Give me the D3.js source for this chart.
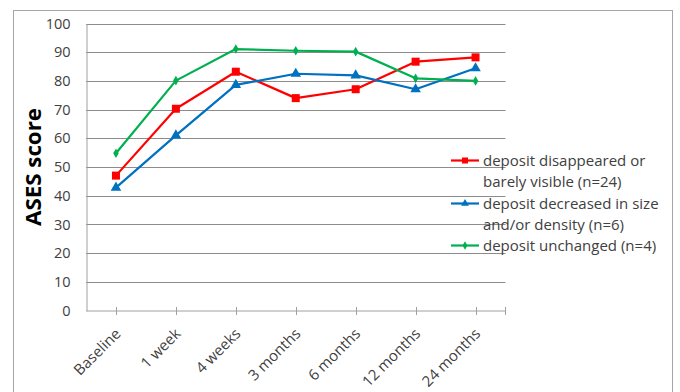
<!DOCTYPE html>
<html><head><meta charset="utf-8">
<script src="https://cdn.jsdelivr.net/npm/d3@7"></script>
<style>
html,body{margin:0;padding:0;background:#fff;}
svg{display:block;font-family:"Open Sans",sans-serif;}
</style></head>
<body>
<svg id="c" width="680" height="392"></svg>
<script>
const categories = ["Baseline","1 week","4 weeks","3 months","6 months","12 months","24 months"];
const disappeared = [47, 70.3, 83.2, 74.0, 77.1, 86.7, 88.2];
const decreased   = [42.8, 61.0, 78.6, 82.5, 81.9, 77.1, 84.4];
const unchanged   = [54.8, 80.1, 91.1, 90.5, 90.2, 80.9, 80.0];
const yTicks = [0,10,20,30,40,50,60,70,80,90,100];
const seriesNames = [
  ["deposit disappeared or","barely visible (n=24)"],
  ["deposit decreased in size","and/or density (n=6)"],
  ["deposit unchanged (n=4)"]
];
const seriesColors = ["#ff0000","#0070c0","#00b050"];
const seriesShapes = ["square","triangle","diamond"];
const seriesValues = [disappeared, decreased, unchanged];

const svg = d3.select("#c");
const L = 86, R = 505.5, T = 23.5, B = 310.5;

// outer frame
svg.append("rect").attr("x",13.5).attr("y",10.5).attr("width",659).attr("height",400)
  .attr("fill","none").attr("stroke","#a6a6a6").attr("stroke-width",1);

const x = d3.scaleBand().domain(categories).range([L,R]);
const y = d3.scaleLinear().domain([0,100]).range([B,T]);
const cx = c => x(c) + x.bandwidth()/2;

// gridlines
svg.append("g").selectAll("line").data(yTicks.filter(d=>d>0)).join("line")
  .attr("x1",L).attr("x2",R).attr("y1",d=>Math.round(y(d))+0.5).attr("y2",d=>Math.round(y(d))+0.5)
  .attr("stroke","#8c8c8c").attr("stroke-width",1);

// y axis
const ya = svg.append("g").attr("transform",`translate(${L+0.5},0)`)
  .call(d3.axisLeft(y).tickValues(yTicks).tickSize(0).tickPadding(16));
ya.select(".domain").attr("stroke","#a0a0a0");
ya.selectAll("text").attr("font-size",14.5).attr("fill","#404040").attr("font-family","Open Sans");

// x axis
const xa = svg.append("g").attr("transform",`translate(0,${B+0.5})`);
xa.append("line").attr("x1",L).attr("x2",R).attr("stroke","#a0a0a0");
const tickPos = categories.map(cx).concat([R-0.5]);
xa.selectAll("line.t").data(tickPos).join("line").attr("class","t")
  .attr("x1",d=>Math.round(d)+0.5).attr("x2",d=>Math.round(d)+0.5).attr("y1",-4).attr("y2",4)
  .attr("stroke","#a0a0a0");
xa.selectAll("text").data(categories).join("text")
  .attr("transform",d=>`translate(${cx(d)+2},${20}) rotate(-45)`)
  .attr("text-anchor","end").attr("dy","0.35em")
  .attr("font-size",15).attr("fill","#404040").text(d=>d);

// y title
svg.append("text").attr("transform",`translate(41,167) rotate(-90)`)
  .attr("text-anchor","middle").attr("font-size",22).attr("font-weight","bold")
  .attr("textLength",118).attr("lengthAdjust","spacingAndGlyphs")
  .attr("fill","#000").text("ASES score");

function marker(g, shape, color, size){
  if(shape==="square"){
    g.append("rect").attr("x",-size/2).attr("y",-size/2).attr("width",size).attr("height",size).attr("fill",color);
  } else if(shape==="triangle"){
    g.append("path").attr("d",d3.symbol(d3.symbolTriangle, size*size*0.75)()).attr("fill",color);
  } else {
    g.append("path").attr("d",d3.symbol(d3.symbolDiamond, size*size*0.55)()).attr("fill",color);
  }
}

const line = d3.line().x((d,i)=>cx(categories[i])).y(d=>y(d));
seriesValues.forEach((vals,k)=>{
  svg.append("path").datum(vals).attr("d",line).attr("fill","none")
    .attr("stroke",seriesColors[k]).attr("stroke-width",2.2).attr("stroke-linejoin","round");
  vals.forEach((v,i)=>{
    const g = svg.append("g").attr("transform",`translate(${cx(categories[i])},${y(v)})`);
    marker(g, seriesShapes[k], seriesColors[k], k===0?8:(k===1?8:7));
  });
});

// legend
const legY = [160.5, 203.5, 245.5];
seriesNames.forEach((lines,k)=>{
  const g = svg.append("g").attr("transform",`translate(451,${legY[k]})`);
  g.append("line").attr("x1",0).attr("x2",28).attr("stroke",seriesColors[k]).attr("stroke-width",2.2);
  const m = g.append("g").attr("transform","translate(14,0)");
  marker(m, seriesShapes[k], seriesColors[k], 6);
  lines.forEach((t,j)=>{
    g.append("text").attr("x",32).attr("y",j*21).attr("dy","0.35em")
      .attr("font-size",15).attr("fill","#404040").text(t);
  });
});
</script>
</body></html>
